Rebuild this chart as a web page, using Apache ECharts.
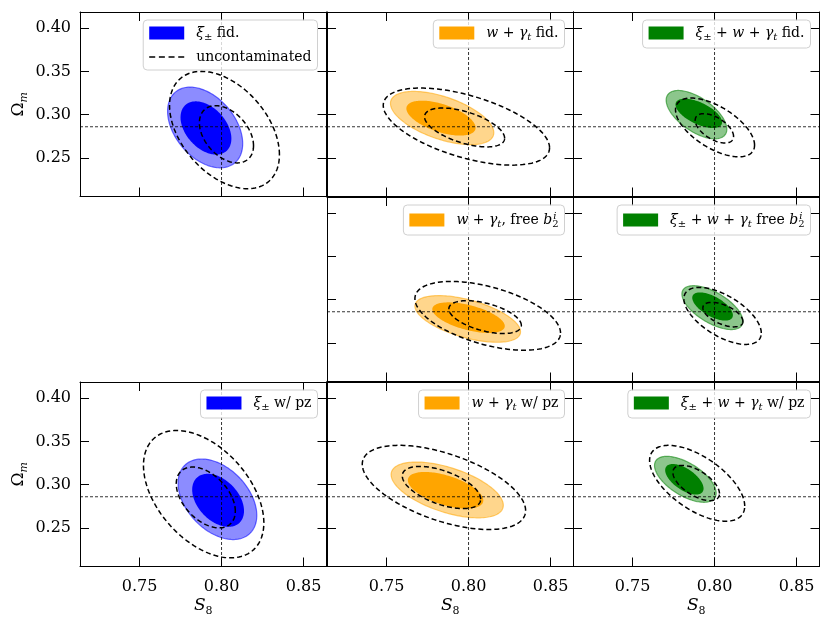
<!DOCTYPE html>
<html>
<head>
<meta charset="utf-8">
<script src="https://cdn.jsdelivr.net/npm/echarts@6/dist/echarts.min.js"></script>
<style>
html, body { margin: 0; padding: 0; background: #fff; }
#chart { width: 831px; height: 636px; }
</style>
</head>
<body>
<div id="chart"></div>
<script>
// axis ranges and ticks
var xRange = [0.7137, 0.864];
var yRange = [0.2053, 0.4188];
var xTicks = [0.75, 0.80, 0.85];
var yTicks = [0.25, 0.30, 0.35, 0.40];
var fidS8 = 0.8;
var fidOm = 0.286;

// panels (the middle-left one is empty)
var panelRow = [0, 0, 0, 1, 1, 2, 2, 2];
var panelCol = [0, 1, 2, 1, 2, 0, 1, 2];
var panelColor = ['#0000ff', '#ffa500', '#008000', '#ffa500', '#008000', '#0000ff', '#ffa500', '#008000'];
var panelLabel = ['xi fid', 'wg fid', 'all fid', 'wg b2', 'all b2', 'xi pz', 'wg pz', 'all pz'];
var labelText = {
	'xi fid': '{g|}{i|ξ}{sub|±}{n| fid.}',
	'wg fid': '{g|}{i|w}{n| + }{i|γ}{subi|t}{n| fid.}',
	'all fid': '{g|}{i|ξ}{sub|±}{n| + }{i|w}{n| + }{i|γ}{subi|t}{n| fid.}',
	'wg b2': '{g|}{i|w}{n| + }{i|γ}{subi|t}{n|, free }{i|b}{sub2|2}{supi|i}',
	'all b2': '{g|}{i|ξ}{sub|±}{n| + }{i|w}{n| + }{i|γ}{subi|t}{n| free }{i|b}{sub2|2}{supi|i}',
	'xi pz': '{g|}{i|ξ}{sub|±}{n| w/ pz}',
	'wg pz': '{g|}{i|w}{n| + }{i|γ}{subi|t}{n| w/ pz}',
	'all pz': '{g|}{i|ξ}{sub|±}{n| + }{i|w}{n| + }{i|γ}{subi|t}{n| w/ pz}',
	'uncontaminated': '{g|}{n|uncontaminated}'
};

// contours: [S8 centre, Om centre, S8 half extent, Om half extent, correlation]
var fill95 = [
	[0.7900, 0.2852, 0.0229, 0.0467, -0.40],
	[0.7839, 0.2961, 0.0315, 0.0308, -0.55],
	[0.7890, 0.3000, 0.0185, 0.0280, -0.60],
	[0.7995, 0.2777, 0.0322, 0.0270, -0.55],
	[0.7987, 0.2908, 0.0186, 0.0254, -0.62],
	[0.7975, 0.2831, 0.0240, 0.0466, -0.40],
	[0.7870, 0.2939, 0.0342, 0.0323, -0.55],
	[0.7822, 0.3062, 0.0188, 0.0266, -0.60]
];
var fill68 = [
	[0.7905, 0.2846, 0.0155, 0.0308, -0.40],
	[0.7832, 0.2960, 0.0211, 0.0202, -0.55],
	[0.7904, 0.3015, 0.0142, 0.0170, -0.60],
	[0.8000, 0.2792, 0.0221, 0.0177, -0.55],
	[0.7988, 0.2921, 0.0124, 0.0163, -0.62],
	[0.7979, 0.2819, 0.0158, 0.0307, -0.40],
	[0.7860, 0.2935, 0.0230, 0.0212, -0.55],
	[0.7816, 0.3062, 0.0117, 0.0177, -0.60]
];
var dash95 = [
	[0.8018, 0.2822, 0.0335, 0.0679, -0.42],
	[0.7987, 0.2862, 0.0507, 0.0446, -0.55],
	[0.8003, 0.2852, 0.0241, 0.0340, -0.60],
	[0.8117, 0.2813, 0.0444, 0.0398, -0.50],
	[0.8049, 0.2812, 0.0236, 0.0330, -0.60],
	[0.7891, 0.2890, 0.0367, 0.0737, -0.45],
	[0.7850, 0.2968, 0.0498, 0.0487, -0.55],
	[0.7894, 0.3016, 0.0290, 0.0439, -0.60]
];
var dash68 = [
	[0.8030, 0.2773, 0.0165, 0.0331, -0.40],
	[0.7976, 0.2852, 0.0244, 0.0225, -0.55],
	[0.7999, 0.2842, 0.0117, 0.0170, -0.55],
	[0.8101, 0.2798, 0.0221, 0.0190, -0.50],
	[0.8051, 0.2827, 0.0122, 0.0142, -0.55],
	[0.7904, 0.2852, 0.0180, 0.0352, -0.45],
	[0.7835, 0.2967, 0.0239, 0.0244, -0.55],
	[0.7888, 0.3019, 0.0142, 0.0204, -0.60]
];

var colLeft = [80, 327, 573];
var colWidth = 246.5;
var rowTop = [12, 197, 382];
var rowHeight = 184.5;
var serif = 'DejaVu Serif';

var richText = {
	g: { width: 7 },
	n: { fontFamily: serif, fontSize: 14, color: '#000', lineHeight: 18 },
	i: { fontFamily: serif, fontStyle: 'italic', fontSize: 14, color: '#000', lineHeight: 18 },
	sub: { fontFamily: serif, fontSize: 10, color: '#000', lineHeight: 8, verticalAlign: 'bottom' },
	subi: { fontFamily: serif, fontStyle: 'italic', fontSize: 10, color: '#000', lineHeight: 8, verticalAlign: 'bottom' },
	sub2: { fontFamily: serif, fontSize: 10, color: '#000', lineHeight: 8, verticalAlign: 'bottom', width: 1 },
	supi: { fontFamily: serif, fontStyle: 'italic', fontSize: 10, color: '#000', lineHeight: 8, verticalAlign: 'top' }
};
var nameRich = {
	o: { fontFamily: serif, fontSize: 17, color: '#000', lineHeight: 22 },
	i: { fontFamily: serif, fontStyle: 'italic', fontSize: 17, color: '#000', lineHeight: 22 },
	s: { fontFamily: serif, fontSize: 11, color: '#000', lineHeight: 10, verticalAlign: 'bottom' },
	si: { fontFamily: serif, fontStyle: 'italic', fontSize: 11, color: '#000', lineHeight: 10, verticalAlign: 'bottom' }
};
var dashIcon = 'path://M0,0h6v1.5h-6z M9.67,0h6v1.5h-6z M19.33,0h6v1.5h-6z M29,0h6v1.5h-6z';

function ellipse(params, api, style) {
	var cx = api.value(0), cy = api.value(1), hx = api.value(2), hy = api.value(3), rho = api.value(4);
	var phi = Math.acos(rho);
	var pts = [];
	for (var k = 0; k < 160; k++) {
		var t = k / 160 * 2 * Math.PI;
		pts.push(api.coord([cx + hx * Math.cos(t), cy + hy * Math.cos(t - phi)]));
	}
	return { type: 'polygon', shape: { points: pts }, style: style };
}

// fiducial cross-hair through the whole panel
function crossHair(params, api) {
	var p = api.coord([api.value(0), api.value(1)]);
	var cs = params.coordSys;
	var st = { stroke: '#000', lineWidth: 0.8, lineDash: [3, 2] };
	return {
		type: 'group',
		children: [
			{ type: 'line', shape: { x1: cs.x, y1: p[1], x2: cs.x + cs.width, y2: p[1] }, style: st },
			{ type: 'line', shape: { x1: p[0], y1: cs.y, x2: p[0], y2: cs.y + cs.height }, style: st }
		]
	};
}

function makeAxis(i, pos, isX, showLabel, name) {
	var ticks = isX ? xTicks : yTicks;
	var range = isX ? xRange : yRange;
	return {
		gridIndex: i,
		type: 'value',
		position: pos,
		min: range[0],
		max: range[1],
		axisLine: { show: true, onZero: false, lineStyle: { color: '#000', width: 1 } },
		axisTick: { show: true, inside: true, length: 9, customValues: ticks, lineStyle: { color: '#000', width: 1 } },
		axisLabel: {
			show: showLabel, customValues: ticks, margin: isX ? 12 : 9,
			fontFamily: serif, fontSize: 16, color: '#000',
			formatter: function(v) { return v.toFixed(2); }
		},
		splitLine: { show: false },
		name: name,
		nameLocation: 'middle',
		nameGap: isX ? 28 : 50,
		nameTextStyle: { rich: nameRich }
	};
}

var option = {
	animation: false,
	backgroundColor: '#fff',
	grid: [], xAxis: [], yAxis: [], legend: [], series: []
};

for (var i = 0; i < panelRow.length; i++) {
	var r = panelRow[i], c = panelCol[i];
	var color = panelColor[i];
	option.grid.push({ left: colLeft[c], top: rowTop[r], width: colWidth, height: rowHeight, containLabel: false, outerBoundsMode: 'none' });
	option.xAxis.push(makeAxis(i, 'bottom', true, r == 2, r == 2 ? '{i|S}{s|8}' : ''));
	option.xAxis.push(makeAxis(i, 'top', true, false, ''));
	option.yAxis.push(makeAxis(i, 'left', false, c == 0, c == 0 ? '{o|Ω}{si|m}' : ''));
	option.yAxis.push(makeAxis(i, 'right', false, false, ''));

	(function(color) {
		option.series.push({
			type: 'custom',
			name: panelLabel[i],
			xAxisIndex: 2 * i,
			yAxisIndex: 2 * i,
			z: 2,
			silent: true,
			itemStyle: { color: color },
			data: [fill95[i], fill68[i]],
			renderItem: function(params, api) {
				if (params.dataIndex == 0) {
					return ellipse(params, api, {
						fill: echarts.color.modifyAlpha(color, 0.45),
						stroke: echarts.color.modifyAlpha(color, 0.55),
						lineWidth: 1.2
					});
				}
				return ellipse(params, api, { fill: color });
			}
		});
	})(color);

	option.series.push({
		type: 'custom',
		name: 'uncontaminated',
		xAxisIndex: 2 * i,
		yAxisIndex: 2 * i,
		z: 3,
		silent: true,
		itemStyle: { color: '#000' },
		data: [dash95[i], dash68[i]],
		renderItem: function(params, api) {
			return ellipse(params, api, { fill: null, stroke: '#000', lineWidth: 1.5, lineDash: [5, 3] });
		}
	});

	option.series.push({
		type: 'custom',
		name: 'fiducial',
		xAxisIndex: 2 * i,
		yAxisIndex: 2 * i,
		z: 4,
		silent: true,
		data: [[fidS8, fidOm]],
		renderItem: crossHair
	});

	var legendData = [{ name: panelLabel[i], icon: 'rect', itemStyle: { color: color, borderWidth: 0 } }];
	if (i == 0) {
		legendData.push({ name: 'uncontaminated', icon: dashIcon, itemStyle: { color: '#000', borderWidth: 0 } });
	}
	option.legend.push({
		data: legendData,
		orient: 'vertical',
		right: 831 - (colLeft[c] + colWidth) + 9,
		top: rowTop[r] + 8,
		itemWidth: 35,
		itemHeight: 13,
		itemGap: 8,
		padding: [6, 6, 6, 6],
		selectedMode: false,
		backgroundColor: 'rgba(255,255,255,0.8)',
		borderColor: '#d0d0d0',
		borderWidth: 1,
		borderRadius: 4,
		z: 10,
		textStyle: { fontFamily: serif, fontSize: 14, color: '#000', rich: richText },
		formatter: function(name) { return labelText[name]; }
	});
}

var chart = echarts.init(document.getElementById('chart'));
chart.setOption(option);
</script>
</body>
</html>
